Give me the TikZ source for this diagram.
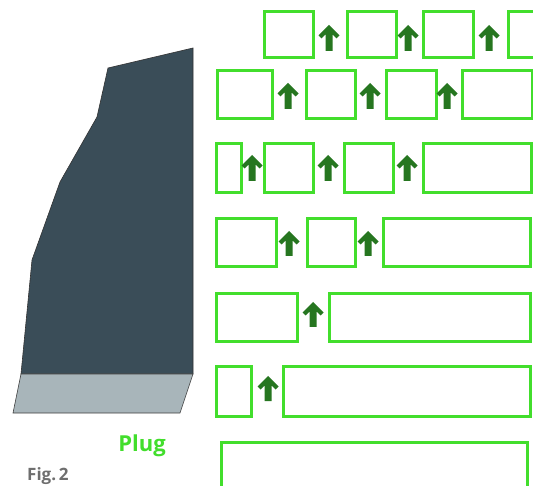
\documentclass[tikz,border=0pt]{standalone}
\usepackage{fontspec}
\setmainfont{Open Sans}
\definecolor{boxgreen}{RGB}{66,222,44}
\definecolor{arrgreen}{RGB}{38,118,32}
\definecolor{slate}{RGB}{58,77,88}
\definecolor{plugfill}{RGB}{168,181,186}
\definecolor{figgray}{RGB}{110,110,110}
\newcommand{\bx}[5]{\node[gbox, minimum width={(#4-#2)*1pt}, minimum height={(#5-#3)*1pt}] (#1) at ({(#2+#4)/2},{(#3+#5)/2}) {};}
\newcommand{\uparr}[3]{\fill[arrgreen] (#1,#2) -- ({#1+10.5},{#2+10.5}) -- ({#1+7.5},{#2+13.5}) -- ({#1+3.5},{#2+9.5}) -- ({#1+3.5},#3) -- ({#1-3.5},#3) -- ({#1-3.5},{#2+9.5}) -- ({#1-7.5},{#2+13.5}) -- ({#1-10.5},{#2+10.5}) -- cycle;}
\begin{document}
\begin{tikzpicture}[x=1pt,y=-1pt,
  gbox/.style={draw=boxgreen, line width=3pt, inner sep=0pt, outer sep=0pt, fill=none}]
\clip (0,0) rectangle (533,486);
\fill[white] (0,0) rectangle (533,486);
% tool body
\filldraw[fill=slate, draw=black!80, line width=0.6pt] (193,48) -- (108,68) -- (97,117) -- (60,182) -- (32,260) -- (21,374) -- (193,374) -- cycle;
\filldraw[fill=plugfill, draw=black!75, line width=0.6pt] (21,374) -- (193,374) -- (180,413) -- (13,413) -- cycle;
\node[text=boxgreen, font=\bfseries\fontsize{22}{26}\selectfont, anchor=base, inner sep=0pt] (plug) at (142,451) {Plug};
\node[text=figgray, font=\bfseries\fontsize{17}{20}\selectfont, anchor=base west, inner sep=0pt] (fig) at (27,480) {Fig.\,2};
% row 1
\bx{a1}{264}{12}{313}{58}\bx{a2}{347}{12}{396}{58}\bx{a3}{423}{12}{473}{58}\bx{a4}{508}{12}{548}{58}
\uparr{329}{25}{51}\uparr{408}{25}{51}\uparr{489}{25}{51}
% row 2
\bx{b1}{217}{71}{272}{119}\bx{b2}{306}{71}{355}{119}\bx{b3}{386}{71}{436}{119}\bx{b4}{462}{71}{532}{119}
\uparr{288}{83}{109}\uparr{370}{83}{109}\uparr{447}{83}{109}
% row 3
\bx{c1}{216}{144}{241}{193}\bx{c2}{264}{144}{313}{193}\bx{c3}{344}{144}{393}{193}\bx{c4}{423}{144}{531}{193}
\uparr{252}{155}{181}\uparr{328}{155}{181}\uparr{407}{155}{181}
% row 4
\bx{d1}{216}{219}{276}{267}\bx{d2}{307}{219}{355}{267}\bx{d3}{383}{219}{530}{267}
\uparr{289}{231}{256}\uparr{368}{231}{256}
% row 5
\bx{e1}{216}{294}{297}{342}\bx{e2}{329}{294}{530}{342}
\uparr{313}{302}{327}
% row 6
\bx{f1}{216}{367}{251}{416}\bx{f2}{283}{367}{530}{416}
\uparr{268}{376}{401}
% row 7
\bx{g1}{221}{442}{527}{500}
\end{tikzpicture}
\end{document}
